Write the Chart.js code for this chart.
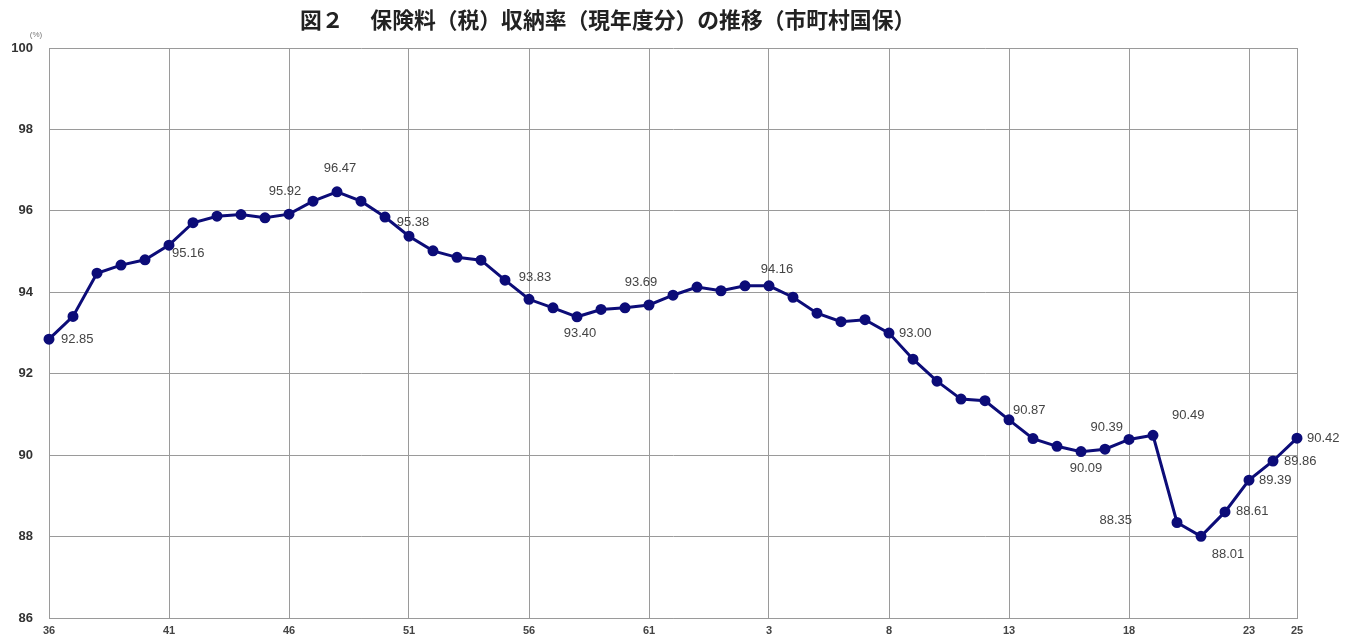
<!DOCTYPE html>
<html>
<head>
<meta charset="utf-8">
<script src="https://cdn.jsdelivr.net/npm/chart.js@4/dist/chart.umd.min.js"></script>
<style>
  body { margin: 0; background: #fff; }
  #wrap { width: 1358px; height: 642px; }
</style>
</head>
<body>
<div id="wrap"><canvas id="rate-chart" width="1358" height="642"></canvas></div>
<script>
// Showa 36-63, then Heisei 1-25
const years = ['36','37','38','39','40','41','42','43','44','45','46','47','48','49','50',
  '51','52','53','54','55','56','57','58','59','60','61','62','63',
  '1','2','3','4','5','6','7','8','9','10','11','12','13','14','15','16','17','18','19',
  '20','21','22','23','24','25'];
const rates = [92.85, 93.41, 94.47, 94.67, 94.80, 95.16, 95.71, 95.87, 95.91, 95.83,
  95.92, 96.24, 96.47, 96.24, 95.85, 95.38, 95.02, 94.86, 94.79, 94.30,
  93.83, 93.62, 93.40, 93.58, 93.62, 93.69, 93.93, 94.13, 94.04, 94.16,
  94.16, 93.88, 93.49, 93.28, 93.33, 93.00, 92.36, 91.82, 91.38, 91.34,
  90.87, 90.41, 90.22, 90.09, 90.15, 90.39, 90.49, 88.35, 88.01, 88.61,
  89.39, 89.86, 90.42];
const tickLabels = ['36','41','46','51','56','61','3','8','13','18','23','25'];
const titleText = '図２　 保険料（税）収納率（現年度分）の推移（市町村国保）';

// where the value labels sit relative to their point: [index, dx, dy, align]
const labelPlacement = [
  [0, 12, 0, 'left'], [5, 3, 8, 'left'], [10, -4, -23, 'center'], [12, 3, -23, 'center'],
  [15, 4, -14, 'center'], [20, 6, -22, 'center'], [22, 3, 17, 'center'], [25, -8, -23, 'center'],
  [30, 8, -16, 'center'], [35, 10, 0, 'left'], [40, 4, -9, 'left'], [43, 5, 17, 'center'],
  [45, -6, -12, 'right'], [46, 19, -20, 'left'], [47, -45, -2, 'right'], [48, 27, 18, 'center'],
  [49, 11, 0, 'left'], [50, 10, 0, 'left'], [51, 11, 0, 'left'], [52, 10, 0, 'left']
];

const extras = {
  id: 'extras',
  afterDraw(chart) {
    const c = chart.ctx;
    c.save();
    c.fillStyle = '#222';
    c.font = 'bold 21.8px "Noto Sans CJK JP"';
    c.textAlign = 'left';
    c.textBaseline = 'middle';
    c.fillText(titleText, 300, 20);
    c.textAlign = 'center';
    c.fillStyle = '#777';
    c.font = '8px "Liberation Sans"';
    c.fillText('(%)', 36, 35);

    const meta = chart.getDatasetMeta(0);
    c.fillStyle = '#444';
    c.font = '13px "Liberation Sans"';
    labelPlacement.forEach(([i, dx, dy, align]) => {
      const pt = meta.data[i];
      c.textAlign = align;
      c.fillText(rates[i].toFixed(2), pt.x + dx, pt.y + dy);
    });
    c.restore();
  }
};

const ctx = document.getElementById('rate-chart').getContext('2d');
new Chart(ctx, {
  type: 'line',
  data: {
    labels: years,
    datasets: [{
      data: rates,
      borderColor: '#0c0c78',
      backgroundColor: '#0c0c78',
      borderWidth: 3,
      pointRadius: 4,
      pointBackgroundColor: '#0c0c78',
      tension: 0
    }]
  },
  options: {
    responsive: false,
    animation: false,
    layout: { padding: { top: 48, right: 61, left: 0, bottom: 0 } },
    plugins: {
      legend: { display: false },
      tooltip: { enabled: false }
    },
    scales: {
      x: {
        offset: false,
        afterFit: (s) => { s.height = 18; },
        grid: { color: '#9a9a9a', lineWidth: 1, drawTicks: false },
        border: { color: '#9a9a9a' },
        ticks: {
          autoSkip: false,
          maxRotation: 0,
          padding: 6,
          color: '#444',
          font: { family: 'Liberation Sans', size: 11, weight: 'bold' },
          callback: function (v) {
            const lab = this.getLabelForValue(v);
            return tickLabels.includes(lab) ? lab : null;
          }
        }
      },
      y: {
        min: 86,
        max: 100,
        afterFit: (s) => { s.width = 49; },
        grid: { color: '#9a9a9a', lineWidth: 1, drawTicks: false },
        border: { color: '#9a9a9a' },
        ticks: {
          stepSize: 2,
          padding: 16,
          color: '#333',
          font: { family: 'Liberation Sans', size: 13, weight: 'bold' }
        }
      }
    }
  },
  plugins: [extras]
});
</script>
</body>
</html>
